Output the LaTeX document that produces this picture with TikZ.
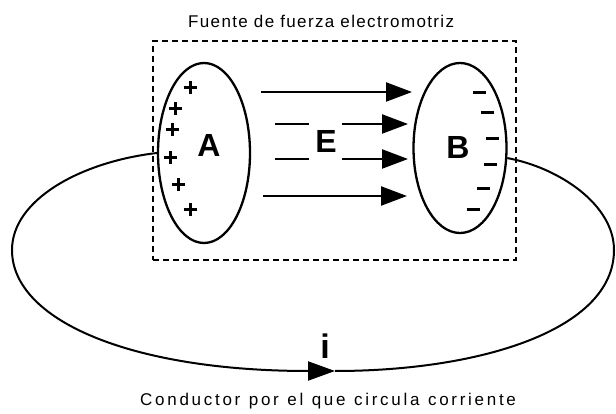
\documentclass[tikz,border=0pt]{standalone}
\usepackage{fontspec}
\setmainfont{Liberation Sans}
\usetikzlibrary{arrows.meta,shapes.geometric}
\begin{document}
\begin{tikzpicture}[x=1pt,y=-1pt,
  blob/.style={draw, ellipse, line width=2.3pt, inner sep=0pt},
  field/.style={line width=2.3pt, -{Triangle[length=26pt,width=19pt]}},
  fieldbar/.style={line width=2.5pt},
  charge/.style={line width=3pt},
  wire/.style={line width=2pt},
  bigletter/.style={font=\fontsize{32}{36}\selectfont\bfseries, inner sep=0pt},
  caption/.style={font=\fontsize{17}{20}\selectfont, inner sep=0pt, anchor=base west},
  frame/.style={draw, line width=1.7pt, dash pattern=on 6pt off 4pt, inner sep=0pt}
]
\useasboundingbox (0,0) rectangle (616,414);
% source frame
\node[frame, minimum width=363pt, minimum height=219pt] (src) at (334.5,150.5) {};
\node[caption] (title) at (188,28) {\addfontfeature{LetterSpace=8}Fuente de fuerza electromotriz};
% bodies
\node[blob, minimum width=92pt, minimum height=180pt] (A) at (204,153) {};
\node[blob, minimum width=93pt, minimum height=170pt] (B) at (460,148) {};
\node[bigletter] (la) at (209,145) {A};
\node[bigletter] (lb) at (458,147) {B};
\node[bigletter] (le) at (326,141) {E};
% charges
\foreach \p/\q in {190/88, 175/109, 172/130, 170/158, 178/185, 190/210}
  \draw[charge] (\p-6.5,\q) -- (\p+6.5,\q) (\p,\q-6.5) -- (\p,\q+6.5);
\foreach \p/\q in {479/93, 487/113, 492/139, 490/165, 483/189, 473/210}
  \draw[charge] (\p-6.5,\q) -- (\p+6.5,\q);
% field lines
\coordinate (f1s) at (261,92);  \coordinate (f1e) at (412,92);
\coordinate (f2a) at (275,124); \coordinate (f2b) at (309,124);
\coordinate (f2s) at (342,124); \coordinate (f2e) at (408,124);
\coordinate (f3a) at (275,159); \coordinate (f3b) at (309,159);
\coordinate (f3s) at (342,159); \coordinate (f3e) at (408,159);
\coordinate (f4s) at (263,196); \coordinate (f4e) at (407,196);
\draw[field] (f1s) -- (f1e);
\draw[fieldbar] (f2a) -- (f2b);
\draw[field] (f2s) -- (f2e);
\draw[fieldbar] (f3a) -- (f3b);
\draw[field] (f3s) -- (f3e);
\draw[field] (f4s) -- (f4e);
% conductor loop
\coordinate (ibot) at (335,371);
\draw[wire, -{Triangle[length=27pt,width=19pt]}] (A.west) .. controls (80,162) and (12,200) .. (12,250)
  .. controls (12,320) and (130,371) .. (ibot);
\draw[wire] (ibot) .. controls (480,371) and (614,330) .. (614,250)
  .. controls (614,205) and (560,168) .. (B.-12);
\node[font=\fontsize{34}{38}\selectfont\bfseries, inner sep=0pt, anchor=base] (cur) at (325,358) {i};
\node[caption] (cap) at (140,405) {\addfontfeature{LetterSpace=16}\spaceskip=8.5pt Conductor por el que circula corriente};
\end{tikzpicture}
\end{document}
